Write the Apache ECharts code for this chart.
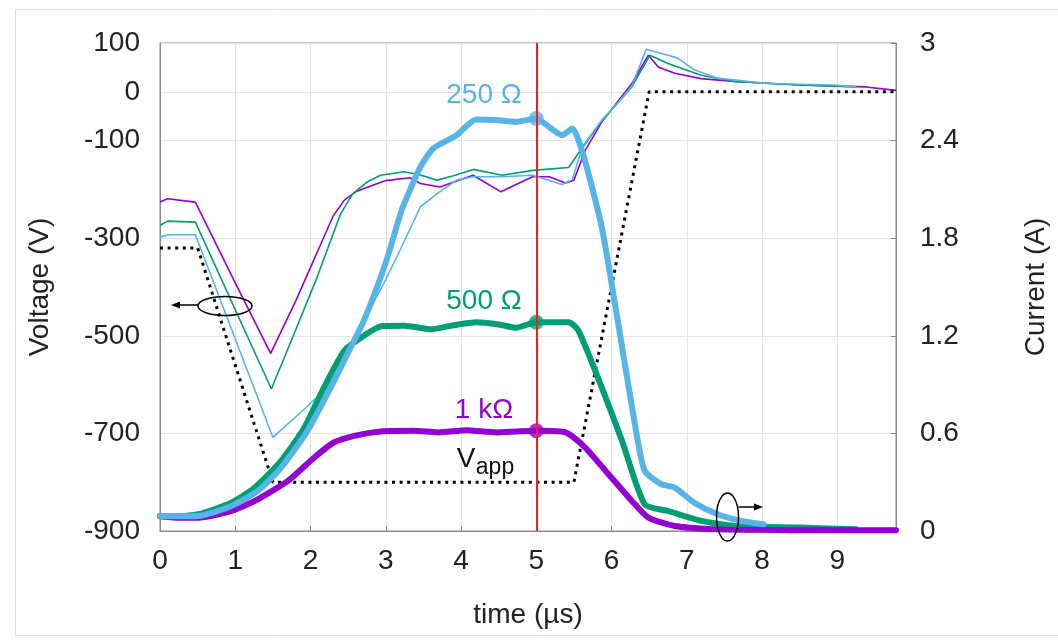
<!DOCTYPE html>
<html><head><meta charset="utf-8">
<script src="https://cdn.jsdelivr.net/npm/echarts@6/dist/echarts.min.js"></script>
<style>html,body{margin:0;padding:0;background:#fff}#c{width:1058px;height:642px}</style>
</head><body><div id="c"></div><script>
// ---- tick labels ----
const voltTicks = [100, 0, -100, -300, -500, -700, -900];
const currTicks = [0, 0.6, 1.2, 1.8, 2.4, 3];
const timeTicks = [0, 1, 2, 3, 4, 5, 6, 7, 8, 9];

// ---- voltage (V), thin lines ----
const tV1k = [0, 0.1, 0.47, 0.975, 1.47, 1.8, 2.12, 2.3, 2.45, 2.6, 2.8, 3.0, 3.32, 3.46, 3.72, 4.16, 4.53, 4.95, 5.17, 5.39, 5.5, 5.65, 5.87, 6.27, 6.49, 6.62, 6.84, 7.19, 7.63, 8.51, 9.38, 9.78];
const vV1k = [-226, -219, -226, -384, -536, -430, -318, -255, -222, -205, -193, -182, -176, -188, -195, -171, -205, -174, -174, -187, -181, -120, -62, 17, 75, 51, 38, 27, 21, 14, 10, 3];

const tV500 = [0, 0.1, 0.47, 1.48, 1.8, 2.07, 2.4, 2.56, 2.75, 2.93, 3.24, 3.45, 3.68, 3.9, 4.16, 4.55, 4.95, 5.43, 5.56, 5.87, 6.1, 6.27, 6.51, 6.75, 7.19, 7.63, 8.51, 9.25];
const vV500 = [-274, -265, -267, -609, -489, -387, -250, -209, -185, -171, -164, -170, -181, -172, -159, -171, -161, -155, -126, -60, -20, 10, 75, 58, 34, 21, 14, 10];

const tV250 = [0, 0.1, 0.47, 1.5, 1.92, 2.23, 2.49, 2.71, 3.0, 3.21, 3.46, 3.68, 3.94, 4.16, 4.55, 4.95, 5.34, 5.48, 5.61, 5.87, 6.1, 6.27, 6.46, 6.75, 6.88, 7.1, 7.41, 8.07, 8.95, 9.25];
const vV250 = [-298, -293, -293, -708, -650, -605, -537, -469, -385, -318, -236, -209, -181, -174, -174, -171, -190, -180, -113, -58, -20, 12, 87, 75, 69, 45, 28, 17, 14, 10];

// ---- applied voltage (V), dotted ----
const tVapp = [0, 0.5, 1.5, 5.5, 6.5, 9.78];
const vVapp = [-320, -320, -800, -800, 0, 0];

// ---- current (A), thick lines ----
const tI1k = [0, 0.21, 0.51, 0.95, 1.3, 1.7, 2.05, 2.31, 2.58, 2.93, 3.37, 3.7, 4.07, 4.47, 4.75, 5.0, 5.39, 5.65, 5.96, 6.27, 6.49, 6.84, 7.41, 8.5, 9.78];
const iI1k = [0.09, 0.082, 0.082, 0.123, 0.195, 0.308, 0.452, 0.544, 0.585, 0.612, 0.616, 0.606, 0.620, 0.606, 0.612, 0.616, 0.606, 0.513, 0.349, 0.185, 0.082, 0.031, 0.010, 0.005, 0.004];

const tI500 = [0, 0.21, 0.51, 0.95, 1.26, 1.61, 1.92, 2.18, 2.45, 2.71, 2.95, 3.25, 3.6, 3.9, 4.2, 4.5, 4.73, 5.0, 5.43, 5.56, 5.87, 6.14, 6.44, 6.75, 7.19, 7.63, 8.51, 9.25];
const iI500 = [0.092, 0.09, 0.103, 0.174, 0.267, 0.431, 0.636, 0.883, 1.109, 1.201, 1.26, 1.262, 1.24, 1.265, 1.283, 1.27, 1.25, 1.283, 1.283, 1.232, 0.883, 0.554, 0.164, 0.123, 0.062, 0.031, 0.021, 0.010];

const tI250 = [0, 0.21, 0.51, 0.95, 1.3, 1.61, 1.96, 2.27, 2.49, 2.71, 3.0, 3.21, 3.32, 3.46, 3.63, 3.94, 4.2, 4.47, 4.73, 5.0, 5.17, 5.34, 5.48, 5.62, 5.87, 6.09, 6.31, 6.44, 6.66, 6.84, 7.1, 7.41, 7.72, 8.02];
const iI250 = [0.092, 0.09, 0.092, 0.154, 0.246, 0.39, 0.616, 0.883, 1.088, 1.294, 1.65, 1.971, 2.094, 2.238, 2.351, 2.433, 2.530, 2.526, 2.515, 2.536, 2.484, 2.433, 2.474, 2.32, 1.868, 1.273, 0.657, 0.370, 0.288, 0.267, 0.174, 0.103, 0.062, 0.041];

// ---- annotation ----
const markTime = 5;
const seriesNames = ['250 Ω', '500 Ω', '1 kΩ'];

const zip = (a, b) => a.map((v, i) => [v, b[i]]);
const at = (ts, vs, t) => vs[ts.indexOf(t)];

const C250 = '#56B4E9', C500 = '#009E73', C1k = '#9400D3';
const FONT = 'Liberation Sans';
const gridCol = '#e4e4e4';

const splitCols = [];
for (let v = -900; v <= 100; v += 100) splitCols.push(voltTicks.includes(v) ? gridCol : 'rgba(0,0,0,0)');

const chart = echarts.init(document.getElementById('c'));
const thin = (name, t, v, col) => ({
  name, type: 'line', xAxisIndex: 0, yAxisIndex: 0, data: zip(t, v),
  showSymbol: false, symbol: 'none', lineStyle: { color: col, width: 1.6 }, z: 2, animation: false
});
const thick = (name, t, v, col, z) => ({
  name, type: 'line', xAxisIndex: 0, yAxisIndex: 1, data: zip(t, v),
  smooth: 0.2,
  showSymbol: false, symbol: 'none', lineStyle: { color: col, width: 6, cap: 'round', join: 'round' }, z, animation: false
});

const option = {
  backgroundColor: '#fff',
  animation: false,
  textStyle: { fontFamily: FONT },
  grid: { left: 160, right: 157, top: 43, bottom: 111, show: true, borderColor: '#888', borderWidth: 1 },
  xAxis: {
    type: 'value', min: 0, max: 9.78, interval: 1,
    name: 'time (µs)', nameLocation: 'middle', nameGap: 70,
    nameTextStyle: { fontSize: 28, color: '#222', fontFamily: FONT },
    axisLine: { show: true, onZero: false, lineStyle: { color: '#888' } },
    axisTick: { show: true, inside: true, length: 5, lineStyle: { color: '#888' } },
    axisLabel: { fontSize: 28, color: '#222', margin: 16, showMaxLabel: false, fontFamily: FONT,
      formatter: v => timeTicks.includes(v) ? String(v) : '' },
    splitLine: { show: true, lineStyle: { color: gridCol, width: 1 } }
  },
  yAxis: [
    {
      type: 'value', min: -900, max: 100, interval: 100, position: 'left',
      name: 'Voltage (V)', nameLocation: 'middle', nameGap: 106, nameRotate: 90,
      nameTextStyle: { fontSize: 28, color: '#222', fontFamily: FONT },
      axisLine: { show: true, onZero: false, lineStyle: { color: '#888' } },
      axisTick: { show: false },
      axisLabel: { fontSize: 28, color: '#222', margin: 20, fontFamily: FONT,
        formatter: v => voltTicks.includes(v) ? String(v) : '' },
      splitLine: { show: true, lineStyle: { color: splitCols, width: 1 } }
    },
    {
      type: 'value', min: 0, max: 3, interval: 0.6, position: 'right',
      name: 'Current (A)', nameLocation: 'middle', nameGap: 126, nameRotate: 90,
      nameTextStyle: { fontSize: 28, color: '#222', fontFamily: FONT },
      axisLine: { show: true, onZero: false, lineStyle: { color: '#888' } },
      axisTick: { show: true, inside: true, length: 5, lineStyle: { color: '#888' } },
      axisLabel: { fontSize: 28, color: '#222', margin: 24, fontFamily: FONT,
        formatter: v => { const r = Math.round(v * 10) / 10; return currTicks.includes(r) ? String(r) : ''; } },
      splitLine: { show: false }
    }
  ],
  series: [
    thin('V ' + seriesNames[2], tV1k, vV1k, C1k),
    thin('V ' + seriesNames[1], tV500, vV500, C500),
    thin('V ' + seriesNames[0], tV250, vV250, C250),
    {
      name: 'Vapp', type: 'line', yAxisIndex: 0, data: zip(tVapp, vVapp), showSymbol: false, symbol: 'none',
      lineStyle: { color: '#000', width: 3, type: [3, 4.6], cap: 'butt' }, z: 2
    },
    thick('I ' + seriesNames[1], tI500, iI500, C500, 3),
    thick('I ' + seriesNames[2], tI1k, iI1k, C1k, 3),
    thick('I ' + seriesNames[0], tI250, iI250, C250, 3),
    {
      name: 'markers', type: 'scatter', yAxisIndex: 1, symbolSize: 15, z: 4,
      data: [
        { value: [markTime, at(tI250, iI250, markTime)], itemStyle: { color: C250 } },
        { value: [markTime, at(tI500, iI500, markTime)], itemStyle: { color: C500 } },
        { value: [markTime, at(tI1k, iI1k, markTime)], itemStyle: { color: C1k } }
      ],
      markLine: {
        silent: true, symbol: ['none', 'none'], label: { show: false },
        lineStyle: { color: '#ff1a1a', width: 2, type: 'solid' },
        data: [{ xAxis: markTime }]
      }
    }
  ],
  graphic: [
    { type: 'rect', shape: { x: 15.5, y: 9.5, width: 1100, height: 626 }, style: { fill: 'none', stroke: '#dddddd', lineWidth: 1 }, silent: true, z: -10 },
    { type: 'text', style: { text: seriesNames[0], x: 484, y: 95, align: 'center', verticalAlign: 'middle', font: '28px "Liberation Sans"', fill: C250 }, z: 100 },
    { type: 'text', style: { text: seriesNames[1], x: 484, y: 301, align: 'center', verticalAlign: 'middle', font: '28px "Liberation Sans"', fill: C500 }, z: 100 },
    { type: 'text', style: { text: seriesNames[2], x: 484, y: 410, align: 'center', verticalAlign: 'middle', font: '28px "Liberation Sans"', fill: C1k }, z: 100 },
    { type: 'text', style: { text: 'V', x: 466, y: 459, align: 'center', verticalAlign: 'middle', font: '28px "Liberation Sans"', fill: '#111' }, z: 100 },
    { type: 'text', style: { text: 'app', x: 495, y: 468, align: 'center', verticalAlign: 'middle', font: '23px "Liberation Sans"', fill: '#111' }, z: 100 },
    { type: 'ellipse', shape: { cx: 225, cy: 306, rx: 27, ry: 9.5 }, style: { fill: 'none', stroke: '#000', lineWidth: 1.5 }, z: 100 },
    { type: 'line', shape: { x1: 198, y1: 305, x2: 178, y2: 305 }, style: { stroke: '#000', lineWidth: 1.5 }, z: 100 },
    { type: 'polygon', shape: { points: [[171, 305], [180, 301.5], [180, 308.5]] }, style: { fill: '#000' }, z: 100 },
    { type: 'ellipse', shape: { cx: 727.5, cy: 517, rx: 11, ry: 24 }, style: { fill: 'none', stroke: '#000', lineWidth: 1.5 }, z: 100 },
    { type: 'line', shape: { x1: 738.5, y1: 507, x2: 756, y2: 507 }, style: { stroke: '#000', lineWidth: 1.5 }, z: 100 },
    { type: 'polygon', shape: { points: [[763, 507], [754, 503.5], [754, 510.5]] }, style: { fill: '#000' }, z: 100 }
  ]
};
chart.setOption(option);
</script></body></html>
